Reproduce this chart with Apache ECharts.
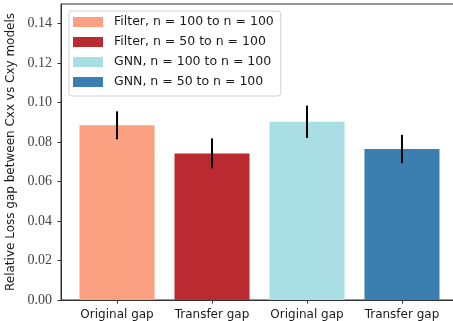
<!DOCTYPE html>
<html><head><meta charset="utf-8">
<script src="https://cdn.jsdelivr.net/npm/echarts@6/dist/echarts.min.js"></script>
<style>html,body{margin:0;padding:0;background:#fff}#c{width:453px;height:321px}</style>
</head><body><div id="c"></div>
<script>
const categories = ['Original gap', 'Transfer gap', 'Original gap', 'Transfer gap'];
const seriesNames = ['Filter, n = 100 to n = 100', 'Filter, n = 50 to n = 100', 'GNN, n = 100 to n = 100', 'GNN, n = 50 to n = 100'];
const values = [0.0885, 0.0743, 0.0903, 0.0765];
const errors = [0.0071, 0.0076, 0.0082, 0.0072];
const colors = ['#fca082', '#bb2a30', '#a8dee4', '#3a7fb0'];
const yTicks = [0, 0.02, 0.04, 0.06, 0.08, 0.10, 0.12, 0.14];

const xMin = -0.59, xMax = 3.59;
const gridLeft = 61, gridRight = -5, gridTop = 4, gridBottom = 21;
const W = 453;
const pxPerUnit = (W - gridLeft - gridRight) / (xMax - xMin);
const barW = 0.79 * pxPerUnit;

const chart = echarts.init(document.getElementById('c'), null, {renderer: 'canvas'});
const barSeries = seriesNames.map((name, i) => ({
  name, type: 'bar', barWidth: barW, barGap: '-100%',
  itemStyle: {color: colors[i]},
  data: [[i, values[i]]], z: 2
}));
const errData = values.map((v, i) => [i, v - errors[i], v + errors[i]]);
const option = {
  animation: false,
  grid: {left: gridLeft, right: gridRight, top: gridTop, bottom: gridBottom, outerBoundsMode: 'none', containLabel: false,
         show: true, borderColor: '#333', borderWidth: 1, backgroundColor: 'transparent'},
  legend: {
    data: seriesNames, orient: 'vertical', left: 69, top: 11,
    itemWidth: 30, itemHeight: 10, itemGap: 6,
    padding: [4, 7, 7, 4],
    backgroundColor: '#fff', borderColor: '#d0d0d0', borderWidth: 1, borderRadius: 3,
    textStyle: {fontFamily: 'DejaVu Sans', fontSize: 12.5, color: '#1a1a1a', lineHeight: 14, padding: [0, 0, 0, 6]},
    icon: 'rect', z: 10
  },
  xAxis: {
    type: 'value', min: xMin, max: xMax,
    axisLine: {show: true, onZero: false, lineStyle: {color: '#333'}},
    splitLine: {show: false},
    axisTick: {show: true, customValues: [0, 1, 2, 3], length: 3.5, lineStyle: {color: '#333'}},
    axisLabel: {customValues: [0, 1, 2, 3], formatter: v => categories[Math.round(v)], fontFamily: 'DejaVu Sans', fontSize: 12, color: '#1a1a1a', margin: 9}
  },
  yAxis: {
    type: 'value', min: 0, max: 0.15,
    name: 'Relative Loss gap between Cxx vs Cxy models', nameLocation: 'middle', nameGap: 37,
    nameTextStyle: {fontFamily: 'DejaVu Sans', fontSize: 12, color: '#1a1a1a'},
    axisLine: {show: true, onZero: false, lineStyle: {color: '#333'}},
    splitLine: {show: false},
    axisTick: {show: true, customValues: yTicks, length: 3.5, lineStyle: {color: '#333'}},
    axisLabel: {customValues: yTicks, formatter: v => v.toFixed(2), fontFamily: 'Liberation Serif', fontSize: 14, color: '#444', margin: 9}
  },
  series: barSeries.concat([{
    type: 'custom', z: 5, silent: true,
    data: errData,
    encode: {x: 0, y: [1, 2]},
    renderItem: (params, api) => {
      const lo = api.coord([api.value(0), api.value(1)]);
      const hi = api.coord([api.value(0), api.value(2)]);
      return {type: 'line', shape: {x1: lo[0], y1: lo[1], x2: hi[0], y2: hi[1]}, style: {stroke: '#000', lineWidth: 2}};
    }
  }])
};
chart.setOption(option);
</script></body></html>
